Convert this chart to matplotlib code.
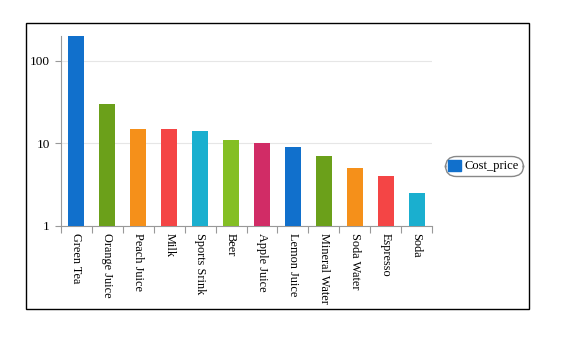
import matplotlib
matplotlib.use("Agg")
import matplotlib.pyplot as plt
from matplotlib.patches import Rectangle, Patch
from matplotlib.ticker import FixedLocator, NullLocator

plt.rcParams['font.family'] = ['Liberation Serif', 'DejaVu Serif']

# data
drinks = ['Green Tea', 'Orange Juice', 'Peach Juice', 'Milk', 'Sports Srink', 'Beer',
          'Apple Juice', 'Lemon Juice', 'Mineral Water', 'Soda Water', 'Espresso', 'Soda']
cost_price = [200, 30, 15, 15, 14, 11, 10, 9, 7, 5, 4, 2.5]
palette = ['#1170cc', '#6ba01a', '#f5901a', '#f44545', '#1aafcf', '#84bf24', '#d12c66']
y_ticks = [1, 10, 100]

W, H = 571, 351
fig = plt.figure(figsize=(W / 100, H / 100), dpi=100)
ax = fig.add_axes([61 / W, 1 - 226 / H, (432 - 61) / W, (226 - 36) / H])

# outer frame
fig.patches.append(Rectangle((26 / W, 1 - 309 / H), (529 - 26) / W, (309 - 23) / H,
                             transform=fig.transFigure, fill=False, ec='black', lw=1))

x = list(range(len(drinks)))
colors = [palette[i % len(palette)] for i in x]
ax.bar(x, cost_price, width=0.52, color=colors, zorder=3)

ax.set_yscale('log')
ax.set_ylim(1, 200)
ax.set_xlim(-0.5, len(drinks) - 0.5)
ax.yaxis.set_major_locator(FixedLocator(y_ticks))
ax.yaxis.set_minor_locator(NullLocator())
ax.set_yticklabels([str(v) for v in y_ticks], fontsize=9.5)
ax.grid(axis='y', color='#e6e6e6', lw=0.8, zorder=0)

# category boundary ticks, labels centred
ax.set_xticks([i - 0.5 for i in range(len(drinks) + 1)])
ax.set_xticklabels([])
ax.set_xticks(x, minor=True)
ax.set_xticklabels(drinks, minor=True, rotation=-90, fontsize=8.8, va='top', ha='center')
ax.tick_params(axis='x', which='major', length=5, color='#999999', width=0.8)
ax.tick_params(axis='x', which='minor', length=0, pad=5)
ax.tick_params(axis='y', length=4, color='#999999', width=0.8, pad=4)

for s in ['top', 'right']:
    ax.spines[s].set_visible(False)
ax.spines['left'].set_color('#999999')
ax.spines['bottom'].set_color('#999999')
ax.spines['left'].set_linewidth(0.8)
ax.spines['bottom'].set_linewidth(0.8)

leg = fig.legend(handles=[Patch(color='#1170cc', label='Cost_price')],
                 loc='center', bbox_to_anchor=(483.5 / W, 1 - 166 / H),
                 fontsize=9, handlelength=1.0, handleheight=1.0, handletextpad=0.3,
                 borderpad=0.15, borderaxespad=0, fancybox=True,
                 edgecolor='#888888', framealpha=1)
leg.get_frame().set_boxstyle('round', pad=0.15, rounding_size=0.9)

fig.savefig('out.png', dpi=100)
